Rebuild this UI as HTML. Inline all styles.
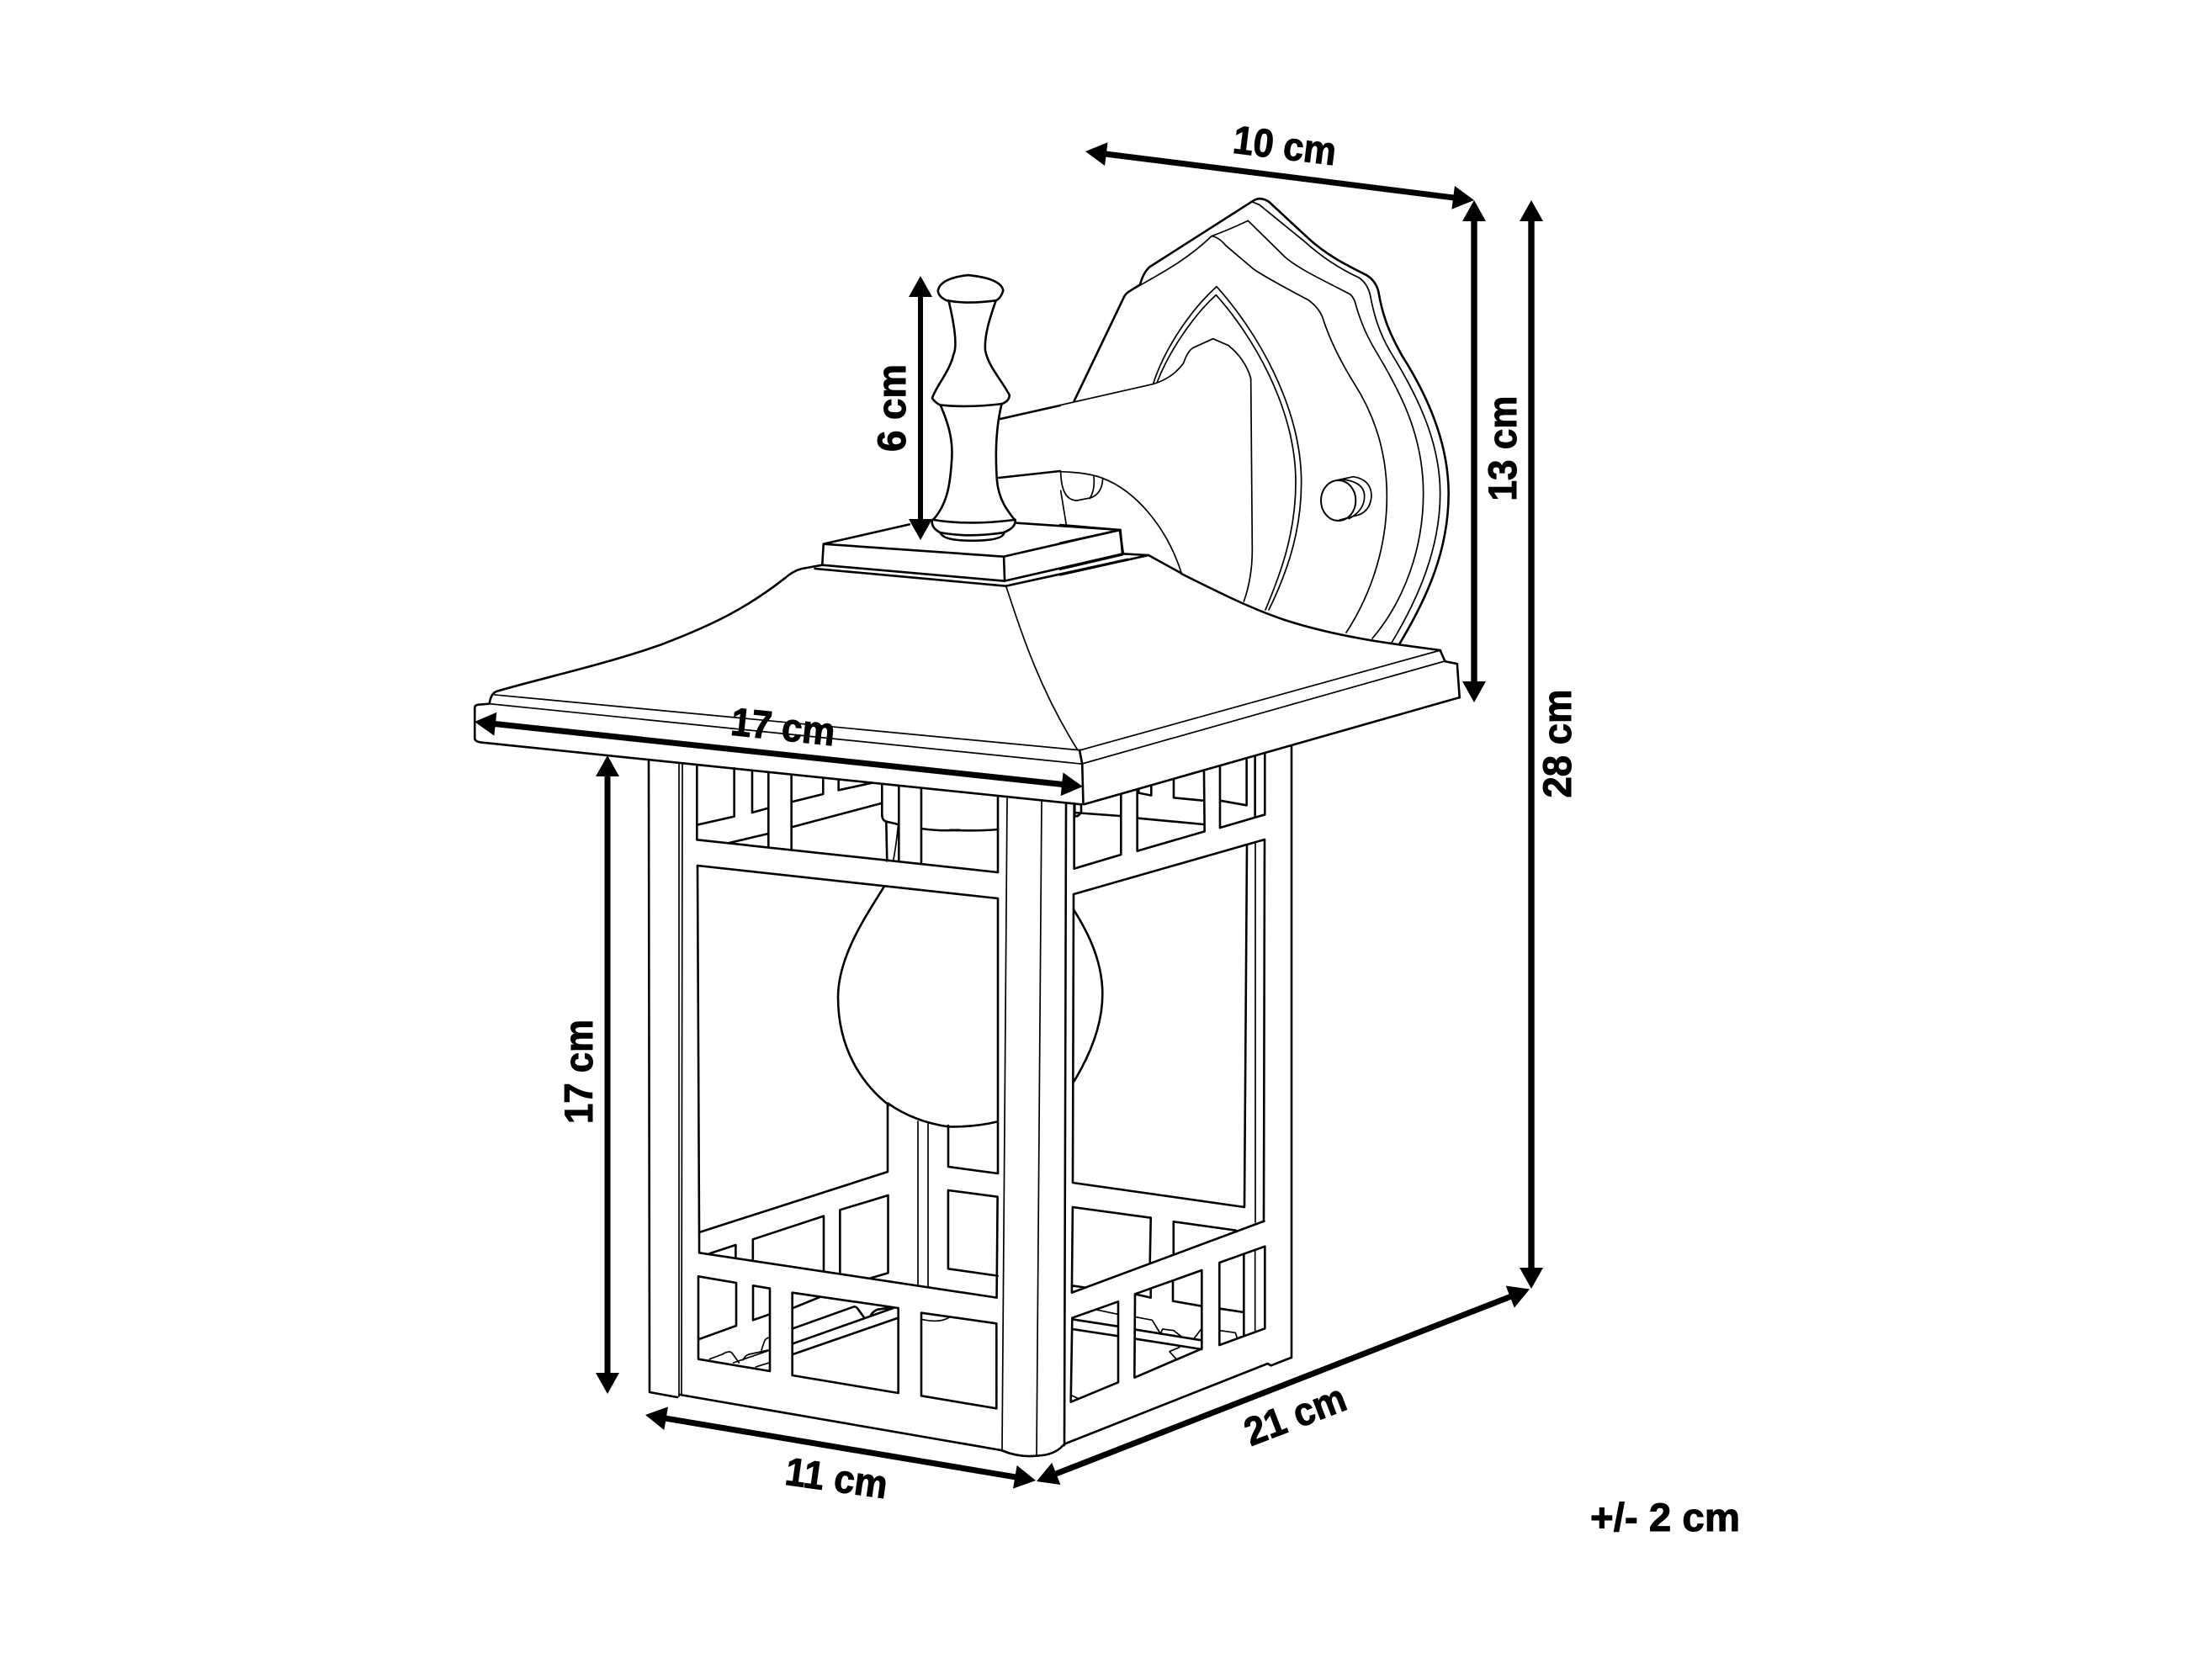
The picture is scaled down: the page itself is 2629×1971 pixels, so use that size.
<!DOCTYPE html>
<html><head><meta charset="utf-8"><style>
html,body{margin:0;padding:0;background:#fff}
svg{display:block}
path,ellipse{vector-effect:non-scaling-stroke;fill:none;stroke:#000;stroke-width:2.6;stroke-linejoin:round;stroke-linecap:round}
.n path,path.n{stroke-width:1.7}
path.a{fill:#000;stroke:none;vector-effect:none}
text{font-family:"Liberation Sans",sans-serif;font-weight:bold;font-size:47px;fill:#000;stroke:#000;stroke-width:1;text-anchor:middle}
</style></head><body>
<svg xmlns="http://www.w3.org/2000/svg" width="2629" height="1971" viewBox="0 0 2629 1971">
<rect width="2629" height="1971" fill="#fff"/>

<!-- mount (3x crop space) -->
<g transform="translate(1260,220) scale(.33333)">
<path d="M1209 1638C1310 1470 1385 1300 1385 1100C1385 900 1290 720 1220 610C1175 530 1150 470 1135 380Q1125 340 1090 320C1020 285 950 250 885 190L745 60Q715 40 690 55L330 285Q300 300 285 355L245 380Q230 390 225 405L50 770"/>
<g class="n">
<path d="M1182 1632C1280 1470 1355 1290 1355 1100C1355 900 1260 730 1175 590C1140 530 1120 470 1105 390Q1095 350 1065 330C1000 300 930 255 870 200L710 70L685 60"/>
<path d="M540 182Q600 160 670 127L800 255C850 300 950 345 1035 390Q1050 405 1055 430C1075 500 1100 550 1130 600C1220 750 1295 900 1295 1100C1295 1290 1230 1480 1113 1617"/>
<path d="M245 380C350 320 450 270 540 182Q565 185 590 215L690 300C750 340 830 380 885 410Q920 435 935 470C960 550 1000 630 1050 710C1120 820 1165 950 1165 1110C1165 1280 1115 1450 1020 1596"/>
<path d="M332 708C370 590 460 450 558 362C700 520 860 790 860 1060C860 1250 800 1400 744 1515"/>
<path d="M345 705C385 600 470 470 556 392C680 530 840 790 840 1060C840 1250 780 1400 732 1515"/>
<path d="M0 785L330 710Q400 690 440 635Q455 590 475 580L545 548L600 572Q660 620 680 690L685 1300Q685 1400 655 1485"/>
<path d="M0 1022Q100 1025 150 1045C270 1090 380 1220 433 1385"/>
<path d="M2 1025Q5 1125 60 1125L110 1115Q150 1100 152 1045M120 1040Q125 1090 105 1118M2 1090L22 1212"/>
<path d="M985 1053L1045 1040Q1110 1050 1110 1110Q1105 1170 1050 1180L995 1195M1010 1050Q1085 1060 1085 1110Q1085 1160 1030 1190"/>
</g>
<ellipse cx="992" cy="1125" rx="62" ry="72" style="stroke-width:2"/>
<path d="M0 1212L215 1230L222 1318M0 1277L215 1230M222 1318L0 1370M0 1390L315 1320M222 1315L315 1320L433 1385"/>
</g>
<path d="M1189 498L1260 482M1187 568L1260 560"/>
<path d="M1404 682C1450 705 1490 725 1530 738C1590 757 1650 765 1712 773"/>

<!-- finial (zoom 1 space) -->
<g transform="translate(1000,130) scale(.574,.4783)">
<path d="M200 450Q205 420 262 412Q330 420 335 450Q330 470 320 475Q262 485 218 475Q200 465 200 450Z"/>
<path d="M222 475C235 540 240 590 232 610C225 650 195 690 188 718Q195 730 205 735Q265 742 332 732Q348 725 348 710C330 670 305 640 298 600C295 560 310 510 320 475"/>
<path d="M205 735C225 790 232 830 228 880C225 930 220 980 190 1020M332 732C320 790 318 850 322 920C325 970 345 1000 360 1022"/>
<path d="M190 1020Q265 1035 360 1020Q362 1040 335 1052Q265 1065 205 1052Q185 1040 188 1020Z"/>
<path d="M205 1052Q210 1072 270 1072Q335 1072 337 1052"/>
<path d="M1240 1345L1250 1372L1275 1378L1280 1462"/>
</g>

<!-- roof left & base (zoom 4 space) -->
<g transform="translate(540,600) scale(.5102,.3333)">
<path d="M857 215L810 228Q790 235 770 262C680 370 600 430 480 500C350 570 200 620 100 665Q85 672 82 708"/>
<path d="M860 140L1060 70M1310 65L1550 90L1558 175M860 140L1280 185L1550 90M860 140L857 215L1282 272M1280 185L1282 272L1558 175M840 228L1285 290L1568 195"/>
<path class="n" d="M1285 290C1320 450 1360 650 1452 875"/>
</g>

<!-- eave -->
<g transform="translate(540,780) scale(.6378,.3827)">
<path class="n" d="M75 120L1165 292M65 148L1170 335"/>
<path d="M65 148L50 150Q38 150 38 160L38 255Q38 265 50 268L1165 460"/>
<path d="M1165 292L1170 335L1172 460"/>
</g>
<path class="n" d="M1712 773L1283 892M1717 786L1286 908"/>
<path d="M1735 829L1289 956"/>

<!-- body verticals, real px -->
<path d="M771 903L772 1655L805 1661M808 1658L1190 1724"/>
<path class="n" d="M807 907L807 1660M811 907L810 1657"/>
<path class="n" d="M1197 949L1191 1723M1238 953L1232 1730"/>
<path d="M1267 956L1265 1718"/>
<path d="M1535 887L1535 1614"/>
<path d="M829 1029L831 1465L1055 1393L1055 1312"/>
<path d="M829 1029L1186 1068L1186 1395L1127 1387L1127 1338"/>
<path d="M1276 1063L1275 1406L1479 1435L1482 1005M1276 1063L1503 998L1502 1452"/>
<path class="n" d="M1492 1002L1492 1453M1091 1333L1091 1528M1103 1336L1103 1530"/>

<!-- bulb -->
<g transform="translate(540,780) scale(.6378,.3827)">
<path d="M800 718C770 800 715 930 715 1060C715 1220 760 1330 810 1395"/>
<path d="M1155 790C1215 950 1235 1100 1155 1320"/>
</g>

<!-- top front cells (zoom 7) -->
<g transform="translate(640,880) scale(.3333)">
<path d="M565 88L565 302L698 272L698 100M762 110L762 258L820 242M820 115L820 382M902 125L902 390M902 220L1015 192L1015 135M902 310L1222 225M1070 143L1070 178L1190 152M565 302L565 355L1638 471M680 366L820 333"/>
<path d="M1225 160L1225 265Q1225 285 1240 290L1283 300M1240 290L1243 430M1285 165L1285 432M1365 175L1365 440M1365 315Q1430 325 1500 320"/>
<path class="n" d="M1283 300Q1275 380 1265 430"/>
</g>
<path d="M1186 948L1186 1037"/>

<!-- top right cells (zoom 8) -->
<g transform="translate(1130,880) scale(.3333)">
<path d="M0 320Q90 325 168 318"/>
<path d="M440 225L440 458L607 408L607 195M665 180L665 395L905 325L903 110M795 140L795 205L900 215M670 175L670 188L715 197L715 165M440 258L605 270M668 278L903 300M960 95L960 215L1055 232L1055 68M960 215L960 312L1120 265L1120 48M1085 58L1085 270"/>
<path d="M442 228L442 270Q455 275 465 255L465 228"/>
</g>

<!-- middle (zoom 9) -->
<g transform="translate(780,1280) scale(.5102,.3333)">
<path d="M540 95Q600 160 680 178Q740 180 795 160"/>
<path d="M100 555L100 628L793 788L795 428L680 405L680 685L795 710M125 630L185 600L185 648M225 655L225 580L390 497L390 692M428 700L428 475L540 423L540 700L500 718"/>
<path d="M970 465L1152 503L1150 660M1205 517L1205 630M1205 517L1350 548M970 465L968 770L1416 515M968 745L1000 752"/>
</g>

<!-- bottom front -->
<g transform="translate(780,1440) scale(.33333)">
<path d="M150 232L285 255L285 408L150 457ZM150 457L150 527L405 570L405 275L345 265L345 388L405 367M485 290L863 345L863 648L485 585ZM945 362L1213 400L1213 703L945 658Z"/>
<path d="M487 345L585 305M487 418L705 340Q715 340 720 350L742 380M765 370Q775 355 790 350L840 343M487 472L845 345M487 510L863 380"/>
<path class="n" d="M945 385Q1010 400 1045 378M190 527L235 510Q260 495 270 505L295 540M310 530Q315 515 330 510L400 495M275 540L400 497M375 495L385 465Q390 452 403 450M355 555L403 540"/>
<path d="M1230 852Q1290 878 1355 872Q1420 870 1450 835"/>
</g>

<!-- bottom right -->
<g transform="translate(1240,1440) scale(.33333)">
<path d="M72 835L75 830L800 543Q808 548 812 550L883 522"/>
<path d="M103 380L267 322L267 610L98 680ZM327 295L565 210L565 490L325 593ZM327 295L383 308L383 280M462 250L462 320L565 338M628 183L790 125L790 418L628 477ZM715 155L715 440M630 347L715 360"/>
<path d="M103 385L265 410M103 420L267 445M330 422L565 460M330 455L565 492"/>
<path class="n" d="M185 350L265 367M98 655L125 668M755 140L755 425M330 377L388 388L415 432M420 432L425 420L465 425L490 445M538 453L565 417M485 485L450 500L475 528M630 425L685 433L692 455"/>
</g>

<!-- dimension arrows -->
<g transform="translate(1290,180) rotate(7.16)"><path class="a" d="M0 0L25 -14L25 -3.5L440.6 -3.5L440.6 -14L465.6 0L440.6 14L440.6 3.5L25 3.5L25 14Z"/></g>
<g transform="translate(1752,238) rotate(90)"><path class="a" d="M0 0L25 -14L25 -3.7L572 -3.7L572 -14L597 0L572 14L572 3.7L25 3.7L25 14Z"/></g>
<g transform="translate(1820,238) rotate(90)"><path class="a" d="M0 0L25 -14L25 -3.7L1269 -3.7L1269 -14L1294 0L1269 14L1269 3.7L25 3.7L25 14Z"/></g>
<g transform="translate(1094,328) rotate(90)"><path class="a" d="M0 0L25 -14L25 -3L289 -3L289 -14L314 0L289 14L289 3L25 3L25 14Z"/></g>
<g transform="translate(722,898) rotate(90)"><path class="a" d="M0 0L25 -14L25 -3.5L734 -3.5L734 -14L759 0L734 14L734 3.5L25 3.5L25 14Z"/></g>
<g transform="translate(564,858) rotate(6.08)"><path class="a" d="M0 0L25 -14L25 -3.5L702 -3.5L702 -14L727 0L702 14L702 3.5L25 3.5L25 14Z"/></g>
<g transform="translate(767,1682) rotate(9.54)"><path class="a" d="M0 0L25 -14L25 -3.5L445.5 -3.5L445.5 -14L470.5 0L445.5 14L445.5 3.5L25 3.5L25 14Z"/></g>
<g transform="translate(1232,1761) rotate(-21.3)"><path class="a" d="M0 0L25 -14L25 -3.5L604 -3.5L604 -14L629 0L604 14L604 3.5L25 3.5L25 14Z"/></g>

<!-- labels -->
<text transform="translate(1525,189) rotate(7)" textLength="123" lengthAdjust="spacingAndGlyphs">10 cm</text>
<text transform="translate(1802,533) rotate(-90)" textLength="125" lengthAdjust="spacingAndGlyphs">13 cm</text>
<text transform="translate(1867,884) rotate(-90)" textLength="129" lengthAdjust="spacingAndGlyphs">28 cm</text>
<text transform="translate(1076,485) rotate(-90)" textLength="104" lengthAdjust="spacingAndGlyphs">6 cm</text>
<text transform="translate(704,1274) rotate(-90)" textLength="124" lengthAdjust="spacingAndGlyphs">17 cm</text>
<text transform="translate(929,880) rotate(6)" textLength="124" lengthAdjust="spacingAndGlyphs">17 cm</text>
<text transform="translate(992,1773) rotate(8)" textLength="122" lengthAdjust="spacingAndGlyphs">11 cm</text>
<text transform="translate(1545,1697) rotate(-21)" textLength="125" lengthAdjust="spacingAndGlyphs">21 cm</text>
<text transform="translate(1979,1820)" textLength="178" lengthAdjust="spacingAndGlyphs">+/- 2 cm</text>
</svg>
</body></html>
